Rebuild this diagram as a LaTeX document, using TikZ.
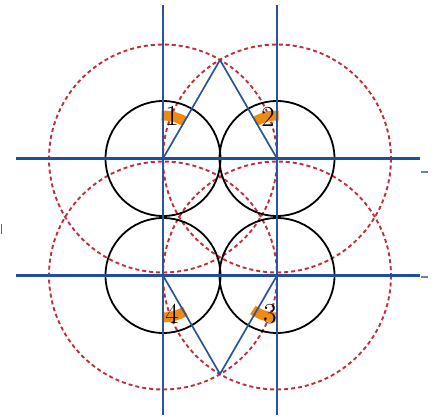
\documentclass[tikz,border=0pt]{standalone}
\usepackage{tikz}
\usepackage{xcolor}
\usetikzlibrary{calc}
\definecolor{cAxis}{HTML}{1F4F9C}
\definecolor{cGuide}{HTML}{2B5597}
\definecolor{cRing}{HTML}{C0303C}
\definecolor{cMark}{HTML}{F08A12}
\tikzset{
  axis/.style={draw=cAxis,line width=2.8pt},
  guide/.style={draw=cGuide,line width=1.8pt},
  roller/.style={draw=black,line width=1.8pt},
  ring/.style={draw=cRing,line width=1.9pt,dash pattern=on 4pt off 3pt},
  edge/.style={draw=cGuide,line width=1.7pt},
  blob/.style={draw=cMark,line width=10pt},
  num/.style={font=\fontsize{29}{29}\selectfont,inner sep=0pt},
}

\begin{document}
\begin{tikzpicture}[x=1pt,y=-1pt]
\useasboundingbox (0,0) rectangle (437,417);

% ---------------------------------------------------------------- centres
\coordinate (c1) at (163,158.5);
\coordinate (c2) at (277,158.5);
\coordinate (c3) at (277,275.5);
\coordinate (c4) at (163,275.5);
\coordinate (apexT) at (220,60);
\coordinate (apexB) at (220,374);

% ---------------------------------------------------------------- red rings
\foreach \c in {c1,c2,c3,c4}
  \draw[ring] (\c) circle (114);

% ---------------------------------------------------------------- orange marks
\draw[blob] ($(c1)+(-92:43)$) arc[start angle=-92,end angle=-60,radius=43];
\draw[blob] ($(c2)+(-88:43)$) arc[start angle=-88,end angle=-120,radius=43];
\draw[blob] ($(c3)+(92:42)$) arc[start angle=92,end angle=125,radius=42];
\draw[blob] ($(c4)+(90:42)$) arc[start angle=90,end angle=58,radius=42];

% ---------------------------------------------------------------- rollers
\foreach \c in {c1,c2,c3,c4}
  \draw[roller] (\c) circle (57.5);

% ---------------------------------------------------------------- guide lines
\coordinate (vlT) at (163,5);   \coordinate (vlB) at (163,415);
\coordinate (vrT) at (277,5);   \coordinate (vrB) at (277,415);
\coordinate (htL) at (16,158.5); \coordinate (htR) at (420,158.5);
\coordinate (hbL) at (16,275.5); \coordinate (hbR) at (420,275.5);
\draw[guide] (vlT) -- (vlB);
\draw[guide] (vrT) -- (vrB);
\draw[axis] (htL) -- (htR);
\draw[axis] (hbL) -- (hbR);

% ---------------------------------------------------------------- diamonds
\draw[edge] (c1) -- (apexT) -- (c2);
\draw[edge] (c4) -- (apexB) -- (c3);

% ---------------------------------------------------------------- labels
\node[num] (n1) at (172,116) {1};
\node[num] (n2) at (268,117) {2};
\node[num] (n3) at (270,314) {3};
\node[num] (n4) at (172,314) {4};

% ---------------------------------------------------------------- stray ticks
\coordinate (t1a) at (421,172); \coordinate (t1b) at (428,172);
\coordinate (t2a) at (421,277); \coordinate (t2b) at (428,277);
\draw[cAxis!70,line width=1.4pt] (t1a) -- (t1b);
\draw[cAxis!70,line width=1.4pt] (t2a) -- (t2b);
\coordinate (t3a) at (1.5,224); \coordinate (t3b) at (1.5,234);
\draw[black!60,line width=1pt] (t3a) -- (t3b);

\end{tikzpicture}
\end{document}
